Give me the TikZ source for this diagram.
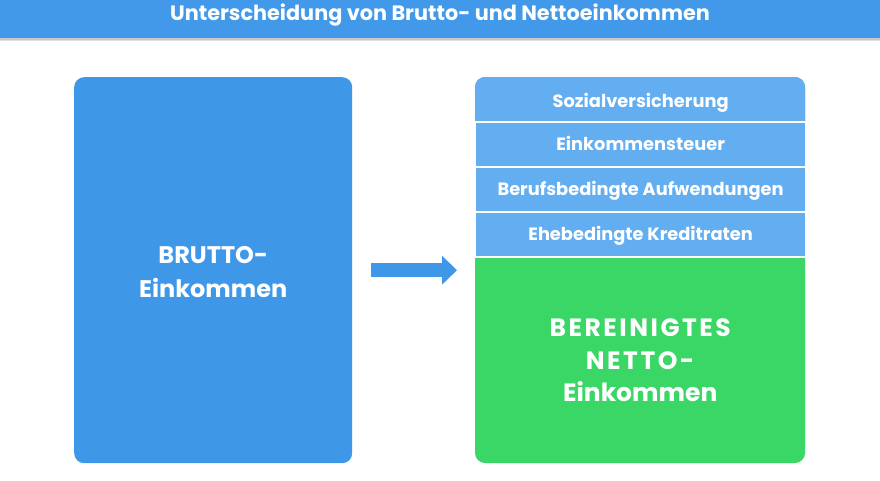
\documentclass[tikz,border=0pt]{standalone}
\usepackage{fontspec}
\setmainfont{Poppins}
\usetikzlibrary{arrows.meta}
\definecolor{hdr}{HTML}{4299E9}
\definecolor{bruttoc}{HTML}{3F97E8}
\definecolor{rowc}{HTML}{63ADF1}
\definecolor{greenc}{HTML}{3AD767}
\tikzset{
  px/.style={x=1pt,y=-1pt},
  rowbox/.style={fill=rowc,draw=white,line width=1.2pt,minimum width=330pt,minimum height=44pt,inner sep=0pt,text height=13pt,text depth=0pt,text=white,font=\bfseries\fontsize{17.8}{20}\selectfont},
  bigtext/.style={text=white,align=center,font=\bfseries\fontsize{24}{34}\selectfont},
  nettotext/.style={text=white,align=center,font=\bfseries\fontsize{25}{32.5}\selectfont},
  bigarrow/.style={draw=bruttoc,line width=14pt,-{Triangle[length=15pt,width=28pt]},shorten >=-1pt}
}
\begin{document}
\begin{tikzpicture}[px]
\useasboundingbox (0,0) rectangle (880,480);
\fill[white] (0,0) rectangle (880,480);
% header
\fill[black!12] (0,2) rectangle (880,41);
\fill[black!22] (0,2) rectangle (880,39.5);
\node[fill=hdr,minimum width=880pt,minimum height=38pt,inner sep=0pt,anchor=north west] (title) at (0,0) {};
\node[text=white,font=\bfseries\fontsize{20.8}{22}\selectfont] (titletxt) at (440,15) {Unterscheidung von Brutto- und Nettoeinkommen};
% left box
\node[fill=bruttoc,rounded corners=10pt,minimum width=278pt,minimum height=386pt,inner sep=0pt,anchor=north west] (brutto) at (74,77) {};
\node[bigtext] (bruttotxt) at ([yshift=-2pt]brutto.center) {BRUTTO-\\Einkommen};
% right column
\fill[greenc,rounded corners=10pt] (475,77) rectangle (805,463);
\fill[rowc,rounded corners=10pt] (475,77) rectangle (805,150);
\node[rowbox,anchor=north west,draw=none,fill=none] (r1) at (475,78) {Sozialversicherung};
\node[rowbox,anchor=north west] (r2) at (475,121.5) {Einkommensteuer};
\node[rowbox,anchor=north west] (r3) at (475,166.5) {Berufsbedingte Aufwendungen};
\node[rowbox,anchor=north west] (r4) at (475,211.5) {Ehebedingte Kreditraten};
\draw[white,line width=1.2pt] (475,121.5) -- (805,121.5);
\node[minimum width=330pt,minimum height=206pt,inner sep=0pt,anchor=north west] (netto) at (475,257) {};
\draw[white,line width=1.2pt] (netto.north west) -- (netto.north east);
\node[nettotext] (nettotxt) at ([yshift=0pt]netto.center) {\addfontfeature{LetterSpace=10}BEREINIGTES\\\addfontfeature{LetterSpace=10}NETTO-\\Einkommen};
% arrow
\coordinate (as) at ([xshift=19pt]brutto.east);
\coordinate (ae) at ([xshift=-19pt]netto.west |- brutto.east);
\draw[bigarrow] (as) -- (ae);
\end{tikzpicture}
\end{document}
